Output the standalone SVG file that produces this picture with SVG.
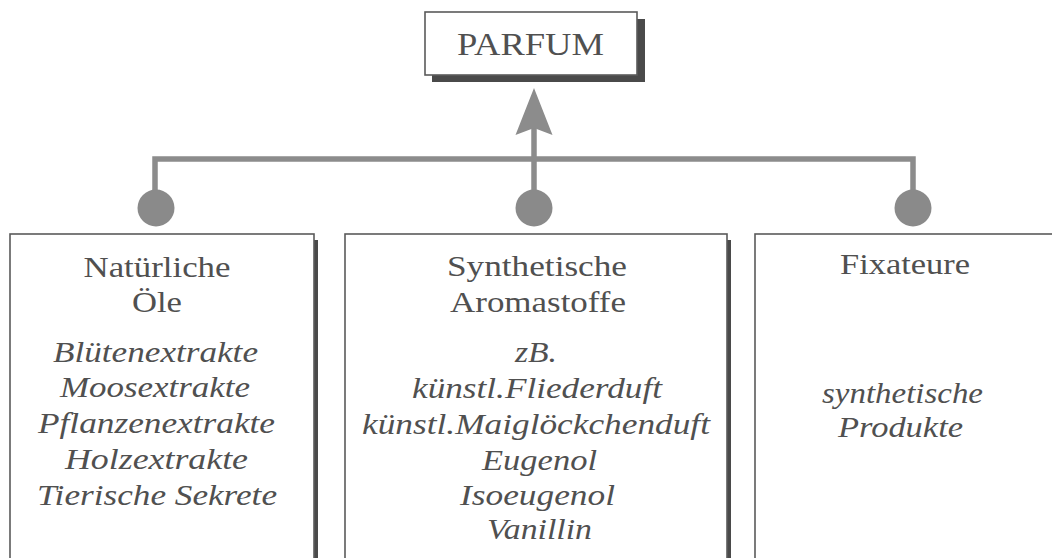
<svg xmlns="http://www.w3.org/2000/svg" width="1052" height="558" viewBox="0 0 1052 558">
  <style>
    .box { fill: #ffffff; stroke: #5a5a5a; stroke-width: 1.6; }
    .shadow { fill: #4a4a4a; }
    .t { font-family: 'Liberation Serif', Tinos, 'Times New Roman', Times, serif; fill: #505050; text-anchor: middle; }
    .h { font-size: 30px; }
    .i { font-size: 30px; font-style: italic; }
    .conn { stroke: #8c8c8c; stroke-width: 5.5; fill: none; }
    .dot { fill: #8a8a8a; }
  </style>
  <rect width="1052" height="558" fill="#ffffff"/>

  <g id="connectors">
    <path class="conn" d="M155,208 V159 H913 V208"/>
    <line class="conn" x1="534" y1="208" x2="534" y2="128"/>
    <path d="M515.5,135 L534,88 L552.5,135 L534,128 Z" fill="#8c8c8c"/>
    <circle class="dot" cx="156" cy="208" r="18.5"/>
    <circle class="dot" cx="534" cy="208" r="18.5"/>
    <circle class="dot" cx="913" cy="208" r="18.5"/>
  </g>

  <g id="parfum">
    <rect class="shadow" x="432" y="19" width="213" height="63"/>
    <rect class="box" x="425" y="12" width="212" height="63"/>
    <text class="t" x="530.5" y="55" font-size="32" textLength="147" lengthAdjust="spacingAndGlyphs">PARFUM</text>
  </g>

  <g id="natuerliche-oele">
    <rect class="shadow" x="313" y="240" width="5" height="320"/>
    <rect class="box" x="10" y="234" width="304" height="330"/>
    <text class="t h" x="157" y="277" textLength="147" lengthAdjust="spacingAndGlyphs">Natürliche</text>
    <text class="t h" x="157" y="312" textLength="50" lengthAdjust="spacingAndGlyphs">Öle</text>
    <text class="t i" x="155.5" y="362" textLength="205" lengthAdjust="spacingAndGlyphs">Blütenextrakte</text>
    <text class="t i" x="155" y="397" textLength="190" lengthAdjust="spacingAndGlyphs">Moosextrakte</text>
    <text class="t i" x="156.5" y="433" textLength="237" lengthAdjust="spacingAndGlyphs">Pflanzenextrakte</text>
    <text class="t i" x="156.5" y="469" textLength="183" lengthAdjust="spacingAndGlyphs">Holzextrakte</text>
    <text class="t i" x="157" y="505" textLength="240" lengthAdjust="spacingAndGlyphs">Tierische Sekrete</text>
  </g>

  <g id="synthetische-aromastoffe">
    <rect class="shadow" x="726" y="240" width="5" height="320"/>
    <rect class="box" x="345" y="234" width="382" height="330"/>
    <text class="t h" x="537" y="276" textLength="180" lengthAdjust="spacingAndGlyphs">Synthetische</text>
    <text class="t h" x="538" y="312" textLength="176" lengthAdjust="spacingAndGlyphs">Aromastoffe</text>
    <text class="t i" x="536" y="362" textLength="42" lengthAdjust="spacingAndGlyphs">zB.</text>
    <text class="t i" x="537" y="398" textLength="250" lengthAdjust="spacingAndGlyphs">künstl.Fliederduft</text>
    <text class="t i" x="536" y="434" textLength="348" lengthAdjust="spacingAndGlyphs">künstl.Maiglöckchenduft</text>
    <text class="t i" x="539.5" y="470" textLength="115" lengthAdjust="spacingAndGlyphs">Eugenol</text>
    <text class="t i" x="537.5" y="505" textLength="155" lengthAdjust="spacingAndGlyphs">Isoeugenol</text>
    <text class="t i" x="539.5" y="539" textLength="105" lengthAdjust="spacingAndGlyphs">Vanillin</text>
  </g>

  <g id="fixateure">
    <rect class="box" x="755" y="234" width="320" height="330"/>
    <text class="t h" x="905" y="274" textLength="130" lengthAdjust="spacingAndGlyphs">Fixateure</text>
    <text class="t i" x="902.5" y="403" textLength="161" lengthAdjust="spacingAndGlyphs">synthetische</text>
    <text class="t i" x="900.5" y="437" textLength="125" lengthAdjust="spacingAndGlyphs">Produkte</text>
  </g>
</svg>
